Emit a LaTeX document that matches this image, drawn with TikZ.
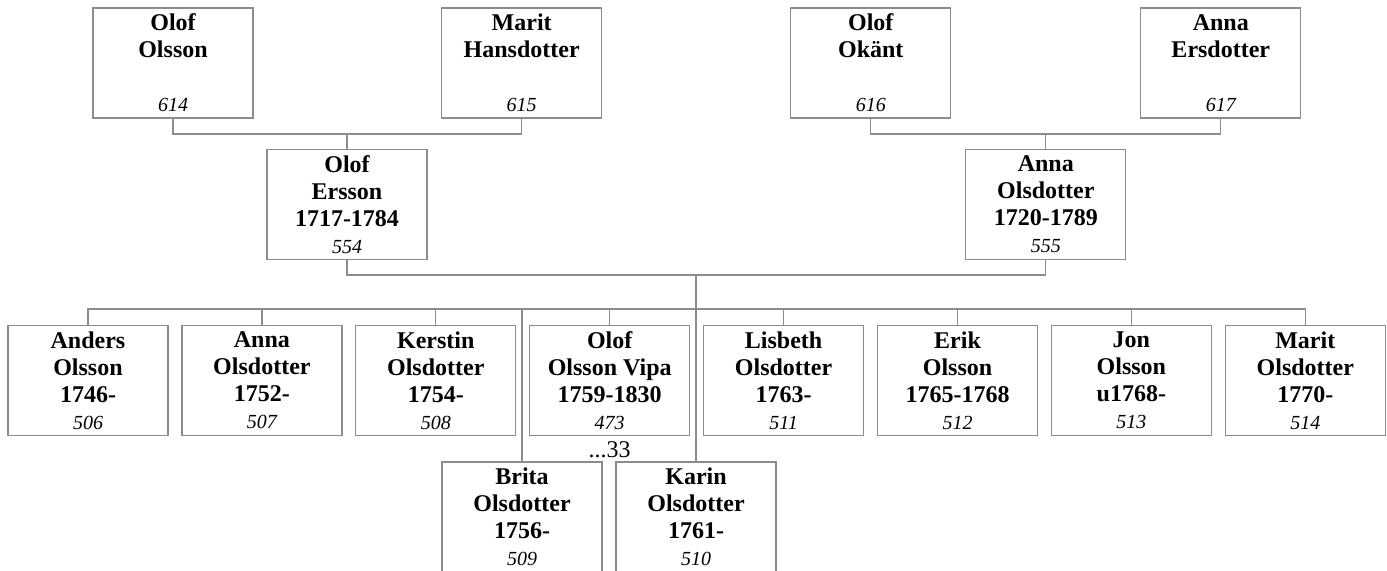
\documentclass[tikz,border=0pt]{standalone}
\usepackage{fontspec}
\setmainfont{Liberation Serif}
\definecolor{boxgray}{RGB}{140,140,140}
\newcommand{\pnum}[1]{{\fontsize{10}{13.5}\selectfont\mdseries\itshape #1}}
\tikzset{
  person/.style={draw=boxgray, line width=0.6pt, minimum width=80pt, minimum height=55pt,
    inner sep=0pt, align=center, font=\fontsize{12}{13.5}\selectfont\bfseries,
    execute at begin node=\rule{0pt}{10.8pt}},
  link/.style={draw=boxgray, line width=0.6pt}
}
\begin{document}
\begin{tikzpicture}[x=0.5pt,y=-0.5pt]
\useasboundingbox (0,0) rectangle (1387,570);
% grandparents
\node[person] (p614) at (173,63) {Olof\\Olsson\\\mbox{}\\\pnum{614}};
\node[person] (p615) at (521.7,63) {Marit\\Hansdotter\\\mbox{}\\\pnum{615}};
\node[person] (p616) at (870.8,63) {Olof\\Ok\"ant\\\mbox{}\\\pnum{616}};
\node[person] (p617) at (1220.8,63) {Anna\\Ersdotter\\\mbox{}\\\pnum{617}};
% parents
\node[person] (p554) at (347,204.5) {Olof\\Ersson\\1717-1784\\\pnum{554}};
\node[person] (p555) at (1045.8,204.5) {Anna\\Olsdotter\\1720-1789\\\pnum{555}};
% children
\node[person] (c506) at (88,380.5) {Anders\\Olsson\\1746-\\\pnum{506}};
\node[person] (c507) at (261.9,380.5) {Anna\\Olsdotter\\1752-\\\pnum{507}};
\node[person] (c508) at (435.8,380.5) {Kerstin\\Olsdotter\\1754-\\\pnum{508}};
\node[person] (c473) at (609.7,380.5) {Olof\\Olsson Vipa\\1759-1830\\\pnum{473}};
\node[person] (c511) at (783.6,380.5) {Lisbeth\\Olsdotter\\1763-\\\pnum{511}};
\node[person] (c512) at (957.5,380.5) {Erik\\Olsson\\1765-1768\\\pnum{512}};
\node[person] (c513) at (1131.4,380.5) {Jon\\Olsson\\u1768-\\\pnum{513}};
\node[person] (c514) at (1305.3,380.5) {Marit\\Olsdotter\\1770-\\\pnum{514}};
\node[person] (c509) at (522,517) {Brita\\Olsdotter\\1756-\\\pnum{509}};
\node[person] (c510) at (696,517) {Karin\\Olsdotter\\1761-\\\pnum{510}};
\node[font=\fontsize{12}{13.5}\selectfont] (more473) at (609.7,450) {...33};
% junctions
\coordinate (j1) at (347,134);
\coordinate (j2) at (1045.8,134);
\coordinate (j3) at (696,275);
\coordinate (bar) at (696,309);
\draw[link] (p614.south) |- (j1) -| (p615.south);
\draw[link] (j1) -- (p554.north);
\draw[link] (p616.south) |- (j2) -| (p617.south);
\draw[link] (j2) -- (p555.north);
\draw[link] (p554.south) |- (j3) -| (p555.south);
\draw[link] (j3) -- (c510.north);
\foreach \c in {c506,c507,c508,c473,c511,c512,c513,c514,c509}
  \draw[link] (\c.north) |- (bar);
\end{tikzpicture}
\end{document}
